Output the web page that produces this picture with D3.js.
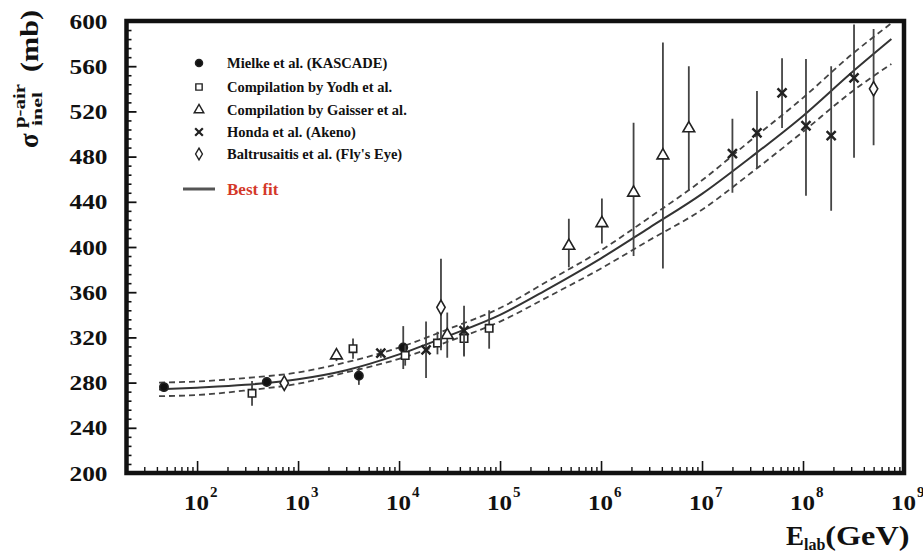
<!DOCTYPE html>
<html>
<head>
<meta charset="utf-8">
<script src="https://cdn.jsdelivr.net/npm/d3@7"></script>
<style>
body { margin: 0; background: #fff; }
svg { display: block; }
text { font-family: "Liberation Serif", "Times New Roman", serif; font-weight: bold; fill: #111; }
</style>
</head>
<body>
<div id="chart"></div>
<script>
// data (E in GeV, sigma in mb)
var mielkeE = [47, 490, 4000, 11000];
var mielkeSigma = [276, 280.5, 286, 311];
var mielkeLo = [4, 4, 8, 19];
var mielkeHi = [4, 4, 8, 19];

var yodhE = [350, 3500, 11500, 24000, 44000, 78000];
var yodhSigma = [270.5, 310, 304, 315, 319, 328];
var yodhLo = [11, 9, 9, 10, 16, 18];
var yodhHi = [11, 9, 9, 10, 16, 16];

var gaisserE = [2400, 30000, 480000, 1.02e6, 2.1e6, 4.1e6, 7.4e6];
var gaisserSigma = [304, 322, 401, 421, 448, 481, 505];
var gaisserLo = [5, 20, 19, 18, 56, 100, 55];
var gaisserHi = [5, 20, 24, 22, 62, 100, 55];

var hondaE = [6600, 18500, 44000, 2.0e7, 3.5e7, 6.2e7, 1.07e8, 1.9e8, 3.2e8];
var hondaSigma = [306, 309, 326, 482.6, 501, 536.4, 507.3, 498.5, 549.7];
var hondaLo = [4, 25, 22, 34.6, 31, 31, 62, 66.5, 70.7];
var hondaHi = [4, 25, 22, 31, 37, 30.6, 59, 61.5, 47.3];

var baltE = [730, 26000, 5e8];
var baltSigma = [279.5, 346.6, 540];
var baltLo = [5, 38, 50];
var baltHi = [5, 43, 53];

// best fit and its error band
var fitE = [42, 100, 300, 1000, 3000, 1e4, 3e4, 1e5, 3e5, 1e6, 3e6, 1e7, 3e7, 1e8, 3e8, 7.5e8];
var fitSigma = [274, 275.5, 278, 283, 291, 305, 321, 340, 363, 390, 417, 447, 479, 516, 554, 584];
var fitUpper = [280, 281, 284, 289, 298, 311, 327, 346, 370, 397, 426, 459, 494, 532, 570, 598];
var fitLower = [268, 269, 273, 279, 289, 301, 316, 334, 356, 381, 406, 433, 465, 502, 537, 562];

var yTicks = [200, 240, 280, 320, 360, 400, 440, 480, 520, 560, 600];
var xDecades = [2, 3, 4, 5, 6, 7, 8, 9];

var legendNames = ["Mielke et al. (KASCADE)", "Compilation by Yodh et al.",
    "Compilation by Gaisser et al.", "Honda et al. (Akeno)", "Baltrusaitis et al. (Fly's Eye)"];

// drawing area
var W = 923, H = 555;
var plot = {left: 126.5, top: 21, right: 904, bottom: 473};

var svg = d3.select("#chart").append("svg")
    .attr("width", W)
    .attr("height", H);

var x = d3.scaleLog()
    .domain([20, 1e9])
    .range([plot.left, plot.right]);
var y = d3.scaleLinear()
    .domain([200, 600])
    .range([plot.bottom, plot.top]);

// minor ticks
var xMinor = [];
for (var k = 1; k <= 8; k++) {
    for (var m = 1; m <= 9; m++) {
        var v = m * Math.pow(10, k);
        if (v > 20 && v < 1e9 && m !== 1) xMinor.push(v);
    }
}
var yMinor = d3.range(200, 600, 8).filter(function(v) { return v % 40 !== 0; });

// y axis ticks pointing inwards
svg.append("g")
    .attr("transform", "translate(" + plot.left + ",0)")
    .call(d3.axisLeft(y).tickValues(yMinor).tickSizeInner(-5).tickSizeOuter(0).tickFormat(""))
    .call(function(g) { g.select(".domain").remove(); })
    .selectAll("line").attr("stroke", "#111").attr("stroke-width", 1.6);

var yAxis = svg.append("g")
    .attr("transform", "translate(" + plot.left + ",0)")
    .call(d3.axisLeft(y).tickValues(yTicks).tickSizeInner(-10).tickSizeOuter(0).tickPadding(19));
yAxis.select(".domain").remove();
yAxis.selectAll("line").attr("stroke", "#111").attr("stroke-width", 1.8);
yAxis.selectAll("text")
    .attr("font-family", "Liberation Serif, serif")
    .attr("font-weight", "bold")
    .attr("font-size", 22)
    .attr("fill", "#111")
    .attr("textLength", 38)
    .attr("lengthAdjust", "spacingAndGlyphs");

// x axis ticks pointing inwards
svg.append("g")
    .attr("transform", "translate(0," + plot.bottom + ")")
    .call(d3.axisBottom(x).tickValues(xMinor).tickSizeInner(-6).tickSizeOuter(0).tickFormat(""))
    .call(function(g) { g.select(".domain").remove(); })
    .selectAll("line").attr("stroke", "#111").attr("stroke-width", 1.4);

svg.append("g")
    .attr("transform", "translate(0," + plot.bottom + ")")
    .call(d3.axisBottom(x).tickValues(xDecades.map(function(d) { return Math.pow(10, d); }))
        .tickSizeInner(-12).tickSizeOuter(0).tickFormat(""))
    .call(function(g) { g.select(".domain").remove(); })
    .selectAll("line").attr("stroke", "#111").attr("stroke-width", 1.6);

// x tick labels 10^n
var xl = svg.append("g").selectAll("text")
    .data(xDecades)
    .enter().append("text")
    .attr("x", function(d) { return x(Math.pow(10, d)) - 13; })
    .attr("y", 510)
    .attr("font-size", 22);
xl.append("tspan").text("10").attr("textLength", 25).attr("lengthAdjust", "spacingAndGlyphs");
xl.append("tspan").attr("font-size", 15).attr("dx", 1).attr("dy", -13)
    .text(function(d) { return d; });

// frame
svg.append("rect")
    .attr("x", plot.left)
    .attr("y", plot.top)
    .attr("width", plot.right - plot.left)
    .attr("height", plot.bottom - plot.top)
    .attr("fill", "none")
    .attr("stroke", "#111")
    .attr("stroke-width", 4.5);

// fit curves
var clipId = "plotclip";
svg.append("clipPath").attr("id", clipId)
    .append("rect")
    .attr("x", plot.left).attr("y", plot.top)
    .attr("width", plot.right - plot.left).attr("height", plot.bottom - plot.top);

var fitLine = d3.line()
    .x(function(d) { return x(d[0]); })
    .y(function(d) { return y(d[1]); })
    .curve(d3.curveMonotoneX);

var curves = svg.append("g").attr("clip-path", "url(#" + clipId + ")");
curves.append("path")
    .attr("d", fitLine(d3.zip(fitE, fitUpper)))
    .attr("fill", "none").attr("stroke", "#444").attr("stroke-width", 1.8)
    .attr("stroke-dasharray", "6,4");
curves.append("path")
    .attr("d", fitLine(d3.zip(fitE, fitLower)))
    .attr("fill", "none").attr("stroke", "#444").attr("stroke-width", 1.8)
    .attr("stroke-dasharray", "6,4");
curves.append("path")
    .attr("d", fitLine(d3.zip(fitE, fitSigma)))
    .attr("fill", "none").attr("stroke", "#333").attr("stroke-width", 2);

// data series
var series = [
    {E: mielkeE, s: mielkeSigma, lo: mielkeLo, hi: mielkeHi, type: d3.symbolCircle, size: 55, fill: "#111"},
    {E: yodhE, s: yodhSigma, lo: yodhLo, hi: yodhHi, type: d3.symbolSquare, size: 55, fill: "#fff"},
    {E: gaisserE, s: gaisserSigma, lo: gaisserLo, hi: gaisserHi, type: d3.symbolTriangle, size: 60, fill: "#fff"},
    {E: hondaE, s: hondaSigma, lo: hondaLo, hi: hondaHi, type: d3.symbolTimes, size: 55, fill: "none"},
    {E: baltE, s: baltSigma, lo: baltLo, hi: baltHi, type: d3.symbolDiamond, size: 60, fill: "#fff"}
];

var pts = svg.append("g").attr("clip-path", "url(#" + clipId + ")");
series.forEach(function(se) {
    var rows = se.E.map(function(e, i) { return {e: e, s: se.s[i], lo: se.lo[i], hi: se.hi[i]}; });
    pts.selectAll(null)
        .data(rows)
        .enter().append("line")
        .attr("x1", function(d) { return x(d.e); })
        .attr("x2", function(d) { return x(d.e); })
        .attr("y1", function(d) { return y(d.s - d.lo); })
        .attr("y2", function(d) { return y(d.s + d.hi); })
        .attr("stroke", "#444")
        .attr("stroke-width", 1.8);
    pts.selectAll(null)
        .data(rows)
        .enter().append("path")
        .attr("transform", function(d) { return "translate(" + x(d.e) + "," + y(d.s) + ")"; })
        .attr("d", d3.symbol().type(se.type).size(se.size))
        .attr("fill", se.fill)
        .attr("stroke", "#222")
        .attr("stroke-width", se.type === d3.symbolTimes ? 2.5 : 1.6);
});

// legend
var legend = svg.append("g");
var legendY = [63, 87, 110, 132, 154];
series.forEach(function(se, i) {
    legend.append("path")
        .attr("transform", "translate(199," + legendY[i] + ")")
        .attr("d", d3.symbol().type(se.type).size(40))
        .attr("fill", se.fill)
        .attr("stroke", "#222")
        .attr("stroke-width", se.type === d3.symbolTimes ? 2.2 : 1.4);
    legend.append("text")
        .attr("x", 227)
        .attr("y", legendY[i] + 5)
        .attr("font-size", 14.5)
        .attr("fill", "#222")
        .text(legendNames[i]);
});
legend.append("line")
    .attr("x1", 183).attr("x2", 215)
    .attr("y1", 189).attr("y2", 189)
    .attr("stroke", "#555").attr("stroke-width", 3);
legend.append("text")
    .attr("x", 227).attr("y", 195)
    .attr("font-size", 17)
    .style("fill", "#d4382a")
    .text("Best fit");

// y title
var yt = svg.append("g").attr("transform", "translate(38,150) rotate(-90)");
yt.append("text").attr("x", 2).attr("y", 0).attr("font-size", 27).text("\u03c3");
yt.append("text").attr("x", 22).attr("y", -13).attr("font-size", 17)
    .attr("textLength", 44).attr("lengthAdjust", "spacingAndGlyphs").text("p-air");
yt.append("text").attr("x", 24).attr("y", 4).attr("font-size", 14)
    .attr("textLength", 34).attr("lengthAdjust", "spacingAndGlyphs").text("inel");
yt.append("text").attr("x", 78).attr("y", 0).attr("font-size", 25)
    .attr("textLength", 62).attr("lengthAdjust", "spacingAndGlyphs").text("(mb)");

// x title
var xt = svg.append("text").attr("x", 786).attr("y", 545).attr("font-size", 27);
xt.append("tspan").text("E");
xt.append("tspan").attr("font-size", 16).attr("dy", 5).text("lab");
xt.append("tspan").attr("dy", -5).attr("textLength", 84).attr("lengthAdjust", "spacingAndGlyphs").text("(GeV)");
</script>
</body>
</html>
